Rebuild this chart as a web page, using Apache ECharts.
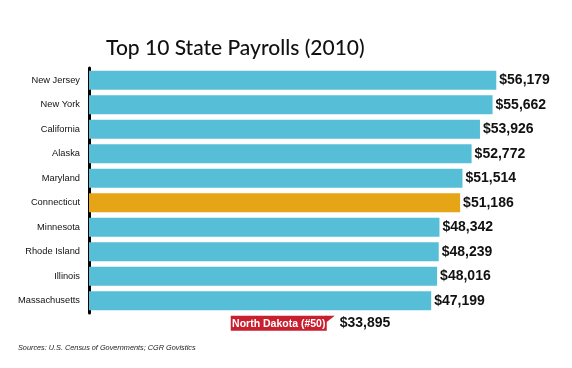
<!DOCTYPE html>
<html><head><meta charset="utf-8">
<script src="https://cdn.jsdelivr.net/npm/echarts@6/dist/echarts.min.js"></script>
<style>html,body{margin:0;padding:0;background:#fff}#c{width:572px;height:368px}</style>
</head><body><div id="c"></div>
<script>
const states = ['New Jersey','New York','California','Alaska','Maryland','Connecticut','Minnesota','Rhode Island','Illinois','Massachusetts'];
const payrolls = [56179,55662,53926,52772,51514,51186,48342,48239,48016,47199];
const highlightState = 'Connecticut';
const lastState = ['North Dakota (#50)'];
const lastValue = [33895];

const BLUE = '#57bed7', ORANGE = '#e5a516', RED = '#c8202f';
const fmt = v => '$' + v.toLocaleString('en-US');

const chart = echarts.init(document.getElementById('c'), null, {renderer:'canvas'});
chart.setOption({
  animation: false,
  backgroundColor: '#fff',
  title: {
    text: 'Top 10 State Payrolls (2010)', left: 101, top: 33,
    textStyle: {fontFamily: 'Lato, "Liberation Sans", sans-serif', fontSize: 21, fontWeight: 500, color: '#111'}
  },
  graphic: [{
    type: 'text', left: 18, top: 344,
    style: {text: 'Sources: U.S. Census of Governments; CGR Govistics', fill: '#222',
      font: 'italic 7.3px "Liberation Sans", Arial, sans-serif'}
  }],
  grid: [
    {left: 89, right: 48, top: 68, height: 245},
    {left: 89, right: 48, top: 311, height: 24.5}
  ],
  xAxis: [
    {gridIndex: 0, type: 'value', min: 0, max: 60000, show: false},
    {gridIndex: 1, type: 'value', min: 0, max: 60000, show: false}
  ],
  yAxis: [
    {gridIndex: 0, type: 'category', data: states, inverse: true,
     axisLine: {show: true, lineStyle: {color: '#000', width: 3}},
     axisTick: {show: false}, splitLine: {show: false},
     axisLabel: {margin: 9, color: '#111', fontSize: 9.3, fontFamily: '"Liberation Sans", Arial, sans-serif'}},
    {gridIndex: 1, type: 'category', data: lastState, show: false}
  ],
  series: [
    {type: 'bar', xAxisIndex: 0, yAxisIndex: 0, barCategoryGap: '22%', z: 1,
     data: payrolls.map((v, i) => ({value: v, itemStyle: {color: states[i] === highlightState ? ORANGE : BLUE}})),
     label: {show: true, position: 'right', distance: 3, formatter: p => fmt(p.value),
       color: '#111', fontSize: 14, fontWeight: 'bold', fontFamily: '"Liberation Sans", Arial, sans-serif'}},
    {type: 'custom', xAxisIndex: 1, yAxisIndex: 1, clip: false,
     data: lastValue.map((v, i) => [v, i]),
     renderItem: function (params, api) {
       const p = api.coord([api.value(0), api.value(1)]);
       const tipX = p[0], cy = p[1];
       const rw = 96, rh = 15, aw = 8;
       const rx = tipX - aw - rw, ry = cy - 7.5;
       return {type: 'group', children: [
         {type: 'rect', shape: {x: rx, y: ry, width: rw, height: rh}, style: {fill: RED}},
         {type: 'polygon', shape: {points: [[rx + rw - 1, ry], [tipX, ry], [rx + rw - 1, ry + 7]]}, style: {fill: RED}},
         {type: 'text', style: {text: lastState[params.dataIndex], x: rx + rw / 2, y: cy + 0.5,
           align: 'center', verticalAlign: 'middle', fill: '#fff',
           font: 'bold 10.5px "Liberation Sans", Arial, sans-serif'}},
         {type: 'text', style: {text: fmt(api.value(0)), x: tipX + 5, y: cy,
           align: 'left', verticalAlign: 'middle', fill: '#111',
           font: 'bold 14px "Liberation Sans", Arial, sans-serif'}}
       ]};
     }}
  ]
});
</script></body></html>
